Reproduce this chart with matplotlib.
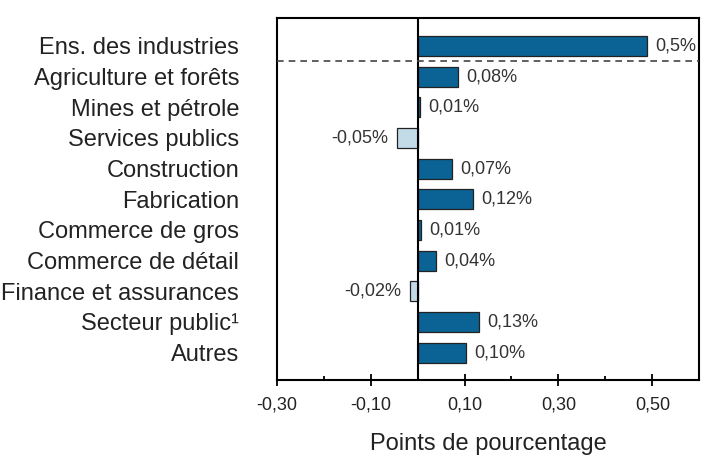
import matplotlib
matplotlib.use("Agg")
import matplotlib.pyplot as plt
from matplotlib.ticker import FixedLocator

plt.rcParams['font.family'] = ['Liberation Sans', 'DejaVu Sans']

categories = ["Ens. des industries", "Agriculture et forêts", "Mines et pétrole",
              "Services publics", "Construction", "Fabrication", "Commerce de gros",
              "Commerce de détail", "Finance et assurances", "Secteur public¹", "Autres"]
values = [0.488, 0.086, 0.005, -0.044, 0.073, 0.118, 0.008, 0.039, -0.017, 0.130, 0.103]
value_labels = ["0,5%", "0,08%", "0,01%", "-0,05%", "0,07%", "0,12%", "0,01%",
                "0,04%", "-0,02%", "0,13%", "0,10%"]
xticks = [-0.30, -0.10, 0.10, 0.30, 0.50]
xtick_labels = ["-0,30", "-0,10", "0,10", "0,30", "0,50"]
minor_ticks = [-0.20, 0.20, 0.40]

dark = "#0a6394"
light = "#c3dbe7"

fig = plt.figure(figsize=(7.09, 4.65), dpi=100)
ax = fig.add_axes([0.3903, 0.1822, 0.5960, 0.7784])

ypos = list(range(len(categories)))
colors = [dark if v >= 0 else light for v in values]
ax.barh(ypos, values, height=0.65, color=colors, edgecolor="#222222", linewidth=0.9, zorder=2)

ax.set_xlim(-0.30, 0.60)
ax.set_ylim(10.9, -0.9)
ax.axvline(0, color="black", linewidth=1.5, zorder=3)
ax.axhline(0.5, color="#444444", linewidth=1.2, linestyle=(0, (4, 3)), zorder=3)

for y, v, lab in zip(ypos, values, value_labels):
    if v >= 0:
        ax.annotate(lab, (v, y), xytext=(6, 0), textcoords="offset points",
                    ha="left", va="center", fontsize=13, color="#333333")
    else:
        ax.annotate(lab, (v, y), xytext=(-6, 0), textcoords="offset points",
                    ha="right", va="center", fontsize=13, color="#333333")

ax.set_yticks(ypos)
ax.set_yticklabels(categories, fontsize=17, color="#222222")
ax.tick_params(axis="y", length=0, pad=27)

ax.set_xticks(xticks)
ax.set_xticklabels(xtick_labels, fontsize=13, color="#222222")
ax.xaxis.set_minor_locator(FixedLocator(minor_ticks))
ax.tick_params(axis="x", which="major", direction="inout", length=8, width=1.3, pad=8)
ax.tick_params(axis="x", which="minor", direction="in", length=3, width=1.3)

for s in ax.spines.values():
    s.set_linewidth(1.5)

ax.set_xlabel("Points de pourcentage", fontsize=17, labelpad=14, color="#222222")

fig.savefig("out.png", dpi=100)
